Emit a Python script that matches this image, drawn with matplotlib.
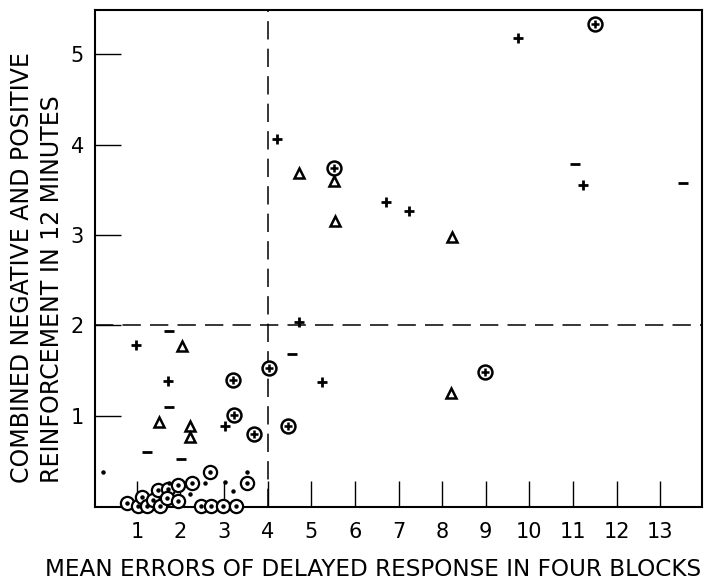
import matplotlib
matplotlib.use("Agg")
import matplotlib.pyplot as plt

# Data
plus_x = [9.74, 4.21, 6.71, 7.23, 11.23, 4.72, 5.24, 0.98, 1.71, 3.02]
plus_y = [5.18, 4.06, 3.37, 3.27, 3.55, 2.04, 1.37, 1.78, 1.38, 0.89]

minus_x = [11.05, 13.52, 4.56, 1.73, 1.73, 1.23, 2.01]
minus_y = [3.78, 3.58, 1.68, 1.94, 1.10, 0.60, 0.52]

tri_x = [4.72, 5.52, 5.54, 8.22, 8.20, 2.03, 1.50, 2.22, 2.22]
tri_y = [3.69, 3.60, 3.15, 2.98, 1.25, 1.77, 0.93, 0.89, 0.76]

cplus_x = [11.50, 5.52, 4.03, 3.20, 3.22, 3.68, 4.46, 8.98]
cplus_y = [5.34, 3.74, 1.53, 1.40, 1.01, 0.80, 0.89, 1.48]

cdot_x = [0.77, 1.02, 1.11, 1.23, 1.37, 1.48, 1.53, 1.71, 1.69, 1.94, 1.94,
          2.26, 2.67, 3.52, 2.47, 2.70, 2.97, 3.27]
cdot_y = [0.03, 0.0, 0.10, 0.0, 0.07, 0.18, 0.0, 0.19, 0.09, 0.23, 0.06,
          0.25, 0.38, 0.25, 0.0, 0.0, 0.0, 0.0]

dot_x = [0.22, 2.56, 3.02, 3.52, 3.20, 2.22, 1.73]
dot_y = [0.38, 0.25, 0.27, 0.38, 0.17, 0.13, 0.26]

x_ticks = list(range(1, 14))
y_ticks = [1, 2, 3, 4, 5]
x_label = "MEAN ERRORS OF DELAYED RESPONSE IN FOUR BLOCKS"
y_label = "COMBINED NEGATIVE AND POSITIVE\nREINFORCEMENT IN 12 MINUTES"
x_cut = 4
y_cut = 2

fig = plt.figure(figsize=(7.19, 5.8), dpi=100)
ax = fig.add_axes([0.1321, 0.1259, 0.8443, 0.8569])
ax.set_xlim(0.04, 13.96)
ax.set_ylim(-0.01, 5.49)

k = dict(color="black", linestyle="none", clip_on=False, zorder=3)
ax.plot(plus_x, plus_y, marker="+", markersize=7, markeredgewidth=2, **k)
ax.plot(minus_x, minus_y, marker="_", markersize=7, markeredgewidth=2, **k)
ax.plot(tri_x, tri_y, marker="^", markersize=7.5, markerfacecolor="none",
        markeredgewidth=1.8, **k)
ax.plot(cplus_x, cplus_y, marker="o", markersize=10, markerfacecolor="white",
        markeredgewidth=1.8, **k)
ax.plot(cplus_x, cplus_y, marker="+", markersize=6, markeredgewidth=1.8, **k)
ax.plot(cdot_x, cdot_y, marker="o", markersize=9.5, markerfacecolor="white",
        markeredgewidth=1.6, **k)
ax.plot(cdot_x, cdot_y, marker="o", markersize=2.2, **k)
ax.plot(dot_x, dot_y, marker="o", markersize=2.2, **k)

ax.axvline(x_cut, color="black", linestyle=(0, (12, 6)), linewidth=1.1, zorder=1)
ax.axhline(y_cut, color="black", linestyle=(0, (12, 6)), linewidth=1.1, zorder=1)

ax.set_xticks(x_ticks)
ax.set_yticks(y_ticks)
ax.tick_params(axis="both", direction="in", length=19, width=1.0,
               labelsize=15)
ax.tick_params(axis="x", pad=11)
ax.tick_params(axis="y", pad=8)
for s in ax.spines.values():
    s.set_linewidth(1.5)

ax.set_xlabel(x_label, fontsize=16.7, va="center")
ax.xaxis.set_label_coords(0.458, -0.1267)
ax.set_ylabel(y_label, fontsize=17, linespacing=1.27, va="center",
              multialignment="left")
ax.yaxis.set_label_coords(-0.0955, 0.481)

fig.savefig("out.png", dpi=100)
